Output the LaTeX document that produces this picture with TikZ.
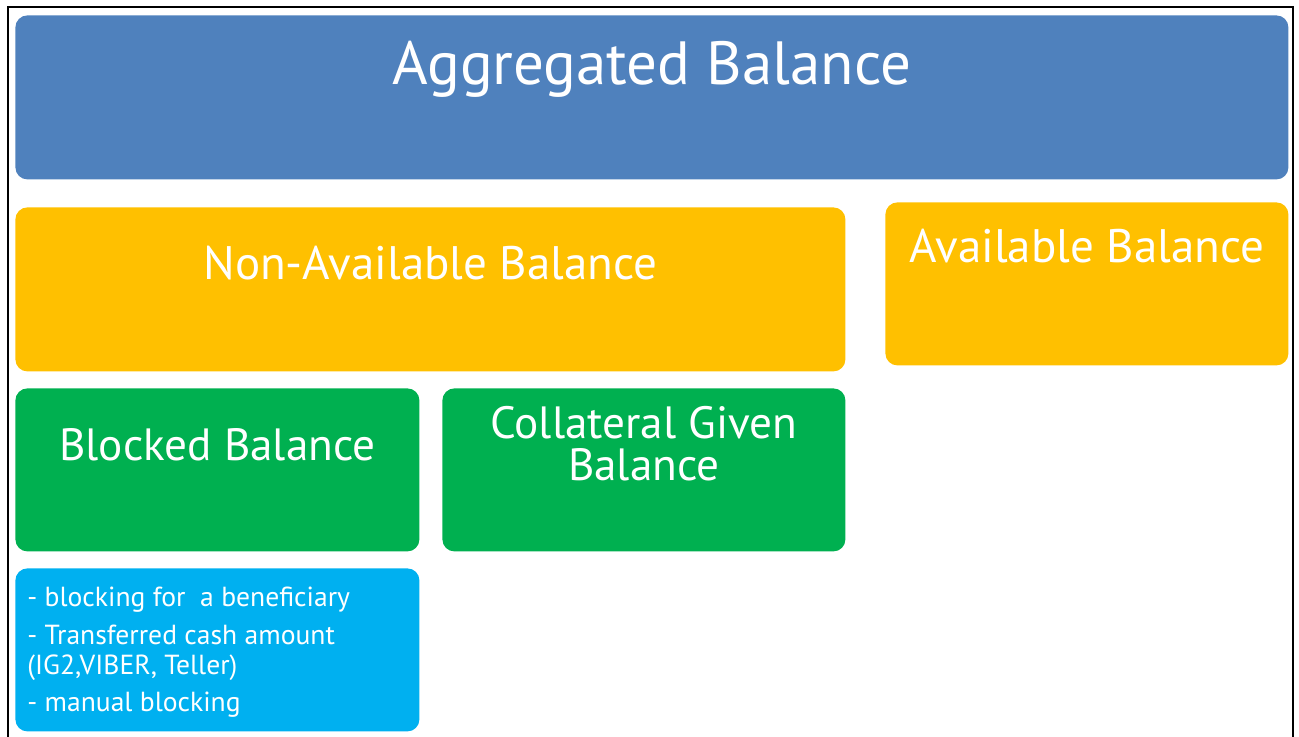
\documentclass[tikz,border=0pt]{standalone}
\usepackage{fontspec}
\setmainfont{PT Sans}
\usetikzlibrary{positioning}

\begin{document}
\begin{tikzpicture}[x = 0.5pt, y = -0.5pt,
  box/.style = {rounded corners = 6pt, inner sep = 0pt, anchor = north west},
  lbl/.style = {text = white, inner sep = 0pt}]
  \useasboundingbox (0,0) rectangle (1299,737);

  \definecolor{aggblue}{HTML}{4F81BD}
  \definecolor{balyellow}{HTML}{FFC000}
  \definecolor{blkgreen}{HTML}{00B050}
  \definecolor{infocyan}{HTML}{00B0F0}

  % frame, open at the bottom
  \draw[line width = 1pt] (7.5,745) -- (7.5,7.5) -- (1292.5,7.5) -- (1292.5,745);

  \foreach \n/\x/\y/\w/\h/\c in {
    agg/15/15/636.5/82/aggblue,
    nonavail/15/207/415/82/balyellow,
    avail/885/202/201.5/81.5/balyellow,
    blocked/15/388/202/81.5/blkgreen,
    collat/442/388/201.5/81.5/blkgreen,
    blockinfo/15/568/202/81.5/infocyan}{
      \node[box, fill = \c, minimum width = \w pt, minimum height = \h pt] (\n) at (\x,\y) {};
    }

  % labels, placed from the top of each box
  \node[lbl, font = \fontsize{30.5}{36}\selectfont, below = 35pt of agg.north, anchor = base] (aggtext) {Aggregated Balance};
  \node[lbl, font = \fontsize{23.5}{28}\selectfont, below = 36.5pt of nonavail.north, anchor = base] (nonavailtext) {Non-Available Balance};
  \node[lbl, font = \fontsize{23.5}{28}\selectfont, below = 30.5pt of avail.north, anchor = base] (availtext) {Available Balance};
  \node[lbl, font = \fontsize{22.6}{26}\selectfont, below = 36pt of blocked.north, anchor = base] (blockedtext) {Blocked Balance};
  \node[lbl, font = \fontsize{22.6}{21}\selectfont, align = center, below = 9pt of collat.north] (collattext) {Collateral Given\\Balance};
  \node[lbl, font = \fontsize{13.8}{15}\selectfont, align = left, anchor = north west] (blockitems)
    at ([xshift = 6pt, yshift = -9.5pt]blockinfo.north west)
    {- blocking for\ \ a beneficiary\\[3.75pt]
     - Transferred cash amount\\
     (IG2,VIBER, Teller)\\[3.75pt]
     - manual blocking};
\end{tikzpicture}
\end{document}
